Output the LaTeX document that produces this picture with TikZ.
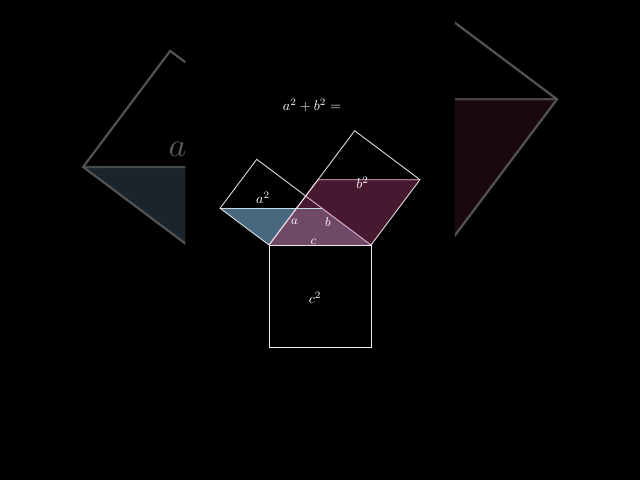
\documentclass[tikz,border=0pt]{standalone}
\usepackage{amsmath}
\usepackage{tikz}
\usetikzlibrary{calc}
\definecolor{sqblue}{HTML}{486880}
\definecolor{sqmaroon}{HTML}{481830}
\definecolor{sqmauve}{HTML}{704868}
\definecolor{edgepink}{HTML}{E6BED6}
\definecolor{edgeblue}{HTML}{C4D8E6}
\newcommand{\ewidth}{0.6pt}
% squares and sheared squares, in pixel units
\newcommand{\pythscene}{%
  \coordinate (A) at (269,245);
  \coordinate (B) at (371,245);
  \coordinate (C) at (305.72,196.04);
  \coordinate (A1) at (220.04,208.28);
  \coordinate (C1) at (256.76,159.32);
  \coordinate (B1) at (419.96,179.72);
  \coordinate (C2) at (354.68,130.76);
  \coordinate (P) at ($(A1)+(102,0)$);
  \coordinate (Q) at ($(B1)-(102,0)$);
  \coordinate (R) at ($(A)!0.75!(C)$);
  \coordinate (D) at (269,347);
  \coordinate (E) at (371,347);
  \fill[sqmaroon] (A) -- (B) -- (B1) -- (Q) -- cycle;
  \fill[sqblue] (A) -- (B) -- (P) -- (A1) -- cycle;
  \fill[sqmauve] (A) -- (B) -- (P) -- (R) -- cycle;
  \draw[pinkline] (A) -- (Q) -- (B1);
  \draw[blueline] (A1) -- (P);
  \draw[pinkline] (B) -- (C);
  \draw[sqline] (A) -- (A1) -- (C1) -- (C) -- cycle;
  \draw[sqline] (C) -- (C2) -- (B1) -- (B);
  \draw[sqline] (A) -- (D) -- (E) -- (B) -- cycle;
  \node[lbl] (asq) at (263,198) {$a^2$};
}

\begin{document}
\begin{tikzpicture}[x=0.025cm,y=-0.025cm,
    sqline/.style={white!92!black,line width=\ewidth},
    pinkline/.style={edgepink,line width=\ewidth},
    blueline/.style={edgeblue,line width=\ewidth},
    lbl/.style={text=white,inner sep=0pt}]
\useasboundingbox (0,0) rectangle (640,480);
\fill[black] (0,0) rectangle (640,480);
% blown-up copy on both sides
\begin{scope}
  \clip (0,0) rectangle (185,480) (455,0) rectangle (640,480);
  \begin{scope}[shift={(320,238.5)},scale=2.37,shift={(-320,-238.5)},transform shape]
    \renewcommand{\ewidth}{1.6pt}
    \pythscene
  \end{scope}
  \fill[black,opacity=0.65] (0,0) rectangle (640,480);
\end{scope}
% the frame itself
\pythscene
\node[lbl] (bsq) at (362.5,183) {$b^2$};
\node[lbl] (csq) at (315,298) {$c^2$};
\node[lbl,font=\small] (sidea) at (294.5,222) {$a$};
\node[lbl,font=\small] (sideb) at (328,222.5) {$b$};
\node[lbl,font=\small] (sidec) at (313.5,241.5) {$c$};
\node[lbl] (sum) at (312,105) {$a^2+b^2=$};
\end{tikzpicture}
\end{document}
